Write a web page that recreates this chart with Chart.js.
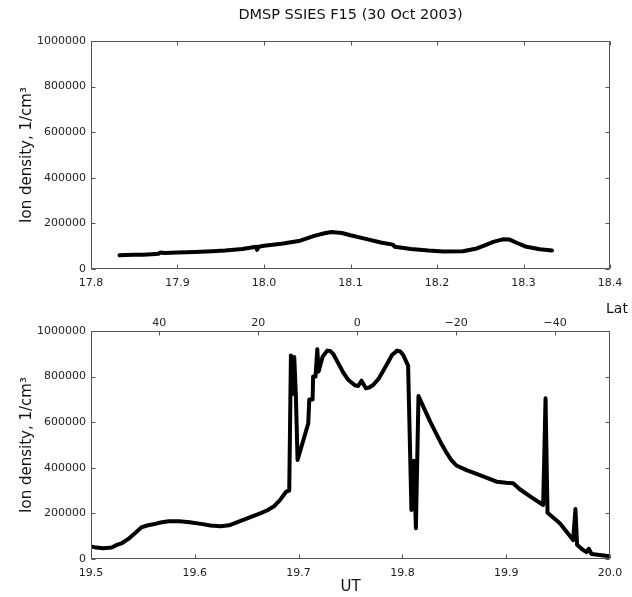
<!DOCTYPE html>
<html><head><meta charset="utf-8">
<script src="https://cdn.jsdelivr.net/npm/chart.js@4/dist/chart.umd.min.js"></script>
<style>
html,body{margin:0;padding:0;background:#fff;width:632px;height:597px;overflow:hidden}
canvas{position:absolute;left:0}
#c1{top:0}
#c2{top:300px}
</style></head><body>
<canvas id="c1" width="632" height="300"></canvas>
<canvas id="c2" width="632" height="297"></canvas>
<script>
// ---- data ----
const utTop = [17.833, 17.84, 17.85, 17.86, 17.87, 17.878, 17.88, 17.885, 17.9, 17.92, 17.94, 17.955, 17.975, 17.991, 17.992, 17.994, 18.0, 18.02, 18.042, 18.058, 18.07, 18.078, 18.09, 18.1, 18.12, 18.135, 18.149, 18.151, 18.17, 18.19, 18.207, 18.23, 18.246, 18.256, 18.265, 18.276, 18.284, 18.292, 18.302, 18.319, 18.333];
const densityTop = [60000, 61000, 62000, 63000, 65000, 67000, 72000, 70000, 72000, 75000, 78000, 81000, 88000, 98000, 84000, 98000, 102000, 111000, 124000, 145000, 157000, 162000, 158000, 148000, 130000, 116000, 107000, 98000, 88000, 81000, 77000, 78000, 90000, 105000, 119000, 130000, 129000, 115000, 99000, 87000, 81000];

const utBottom = [19.5, 19.505, 19.512, 19.52, 19.525, 19.53, 19.536, 19.542, 19.549, 19.555, 19.56, 19.567, 19.575, 19.585, 19.595, 19.606, 19.615, 19.625, 19.633, 19.643, 19.653, 19.663, 19.67, 19.676, 19.682, 19.688, 19.691, 19.6926, 19.6942, 19.6958, 19.6974, 19.699, 19.7093, 19.7103, 19.7135, 19.714, 19.7163, 19.718, 19.7193, 19.7231, 19.7276, 19.7305, 19.7334, 19.738, 19.743, 19.748, 19.7542, 19.7574, 19.7606, 19.7648, 19.768, 19.7718, 19.777, 19.7847, 19.79, 19.7949, 19.798, 19.8007, 19.8055, 19.8087, 19.811, 19.813, 19.8155, 19.819, 19.823, 19.827, 19.832, 19.837, 19.842, 19.847, 19.852, 19.857, 19.8618, 19.8746, 19.8907, 19.9, 19.9067, 19.9131, 19.9259, 19.9356, 19.9379, 19.9398, 19.9517, 19.9645, 19.9667, 19.9683, 19.9725, 19.9773, 19.9795, 19.9822, 19.99, 19.998, 20.0];
const densityBottom = [55000, 50000, 47000, 50000, 62000, 70000, 88000, 112000, 140000, 148000, 152000, 160000, 166000, 166000, 161000, 154000, 147000, 144000, 148000, 165000, 183000, 200000, 214000, 230000, 258000, 295000, 300000, 893000, 725000, 886000, 712000, 434000, 595000, 700000, 700000, 800000, 800000, 920000, 822000, 887000, 914000, 912000, 899000, 860000, 818000, 785000, 762000, 759000, 782000, 749000, 752000, 763000, 790000, 851000, 895000, 914000, 910000, 895000, 848000, 215000, 431000, 135000, 715000, 680000, 640000, 600000, 555000, 510000, 470000, 435000, 410000, 400000, 390000, 368000, 339000, 334000, 332000, 306000, 266000, 237000, 705000, 203000, 157000, 83000, 219000, 62000, 45000, 30000, 45000, 22000, 18000, 13000, 13000];

const yTicks = [0, 200000, 400000, 600000, 800000, 1000000];
const xTicksTop = [17.8, 17.9, 18.0, 18.1, 18.2, 18.3, 18.4];
const xTicksBottom = [19.5, 19.6, 19.7, 19.8, 19.9, 20.0];
const latTicks = [40, 20, 0, -20, -40];
const latTickLabels = ['40', '20', '0', '\u221220', '\u221240'];

// ---- styling ----
const FONT = 'DejaVu Sans';
const tickFont = {family: FONT, size: 11};
const tickColor = '#222';
const frameColor = '#555';

const framePlugin = {
  id: 'frame',
  afterDatasetsDraw(chart) {
    const {ctx, chartArea: a} = chart;
    ctx.save();
    ctx.strokeStyle = frameColor;
    ctx.lineWidth = 1;
    const L = Math.round(a.left) + 0.5, R = Math.round(a.right) - 0.5;
    const T = Math.round(a.top) + 0.5, B = Math.round(a.bottom) - 0.5;
    ctx.strokeRect(L, T, R - L, B - T);
    const len = 4;
    const line = (x1, y1, x2, y2) => { ctx.beginPath(); ctx.moveTo(x1, y1); ctx.lineTo(x2, y2); ctx.stroke(); };
    const ys = chart.scales.y;
    ys.ticks.forEach(t => {
      const py = Math.round(ys.getPixelForValue(t.value)) + 0.5;
      line(L, py, L + len, py); line(R - len, py, R, py);
    });
    const xs = chart.scales.x;
    xs.ticks.forEach(t => {
      const px = Math.round(xs.getPixelForValue(t.value)) + 0.5;
      line(px, B, px, B - len);
      if (!chart.scales.x2) line(px, T, px, T + len);
    });
    if (chart.scales.x2) {
      const x2 = chart.scales.x2;
      x2.ticks.forEach(t => {
        const px = Math.round(x2.getPixelForValue(t.value)) + 0.5;
        line(px, T, px, T + len);
      });
    }
    ctx.restore();
  }
};

const textPlugin = {
  id: 'texts',
  afterDraw(chart, args, opts) {
    const {ctx, chartArea: a} = chart;
    ctx.save();
    ctx.fillStyle = '#111';
    ctx.textBaseline = 'middle';
    ctx.textAlign = 'center';
    (opts.items || []).forEach(it => {
      ctx.font = it.size + 'px "' + FONT + '"';
      const x = it.x === 'center' ? (a.left + a.right) / 2 : it.x;
      ctx.fillText(it.text, x, it.y);
    });
    ctx.restore();
  }
};

function yScale(titlePad) {
  return {
    type: 'linear', min: 0, max: 1000000,
    afterBuildTicks: s => { s.ticks = yTicks.map(v => ({value: v})); },
    ticks: {font: tickFont, color: tickColor, padding: 5, autoSkip: false, callback: v => String(v)},
    grid: {display: false, drawTicks: false},
    border: {display: false},
    title: {display: true, text: 'Ion density, 1/cm\u00B3', color: '#111', font: {family: FONT, size: 15}, padding: {top: titlePad, bottom: 0}},
    afterFit: s => { s.width = 91; }
  };
}

// ---- top chart ----
new Chart(document.getElementById('c1'), {
  type: 'line',
  data: {datasets: [{
    data: utTop.map((x, i) => ({x: x, y: densityTop[i]})),
    borderColor: '#000', borderWidth: 4, pointRadius: 0, fill: false, tension: 0,
    borderJoinStyle: 'round', borderCapStyle: 'round'
  }]},
  options: {
    responsive: false, animation: false, devicePixelRatio: 1,
    layout: {padding: {top: 41, right: 22, left: 0, bottom: 0}},
    plugins: {
      legend: {display: false}, tooltip: {enabled: false},
      texts: {items: [{text: 'DMSP SSIES F15 (30 Oct 2003)', x: 'center', y: 15, size: 14.5}]}
    },
    scales: {
      x: {
        type: 'linear', min: 17.8, max: 18.4,
        afterBuildTicks: s => { s.ticks = xTicksTop.map(v => ({value: v})); },
        ticks: {font: tickFont, color: tickColor, padding: 8, maxRotation: 0, autoSkip: false, callback: v => Number(v).toFixed(1)},
        grid: {display: false, drawTicks: false},
        border: {display: false},
        afterFit: s => { s.height = 31; }
      },
      y: yScale(18)
    }
  },
  plugins: [framePlugin, textPlugin]
});

// ---- bottom chart ----
new Chart(document.getElementById('c2'), {
  type: 'line',
  data: {datasets: [{
    data: utBottom.map((x, i) => ({x: x, y: densityBottom[i]})),
    borderColor: '#000', borderWidth: 4, pointRadius: 0, fill: false, tension: 0,
    borderJoinStyle: 'round', borderCapStyle: 'round'
  }]},
  options: {
    responsive: false, animation: false, devicePixelRatio: 1,
    layout: {padding: {top: 0, right: 22, left: 0, bottom: 0}},
    plugins: {
      legend: {display: false}, tooltip: {enabled: false},
      texts: {items: [{text: 'Lat', x: 617, y: 9, size: 14}]}
    },
    scales: {
      x: {
        type: 'linear', position: 'bottom', min: 19.5, max: 20.0,
        afterBuildTicks: s => { s.ticks = xTicksBottom.map(v => ({value: v})); },
        ticks: {font: tickFont, color: tickColor, padding: 8, maxRotation: 0, autoSkip: false, callback: v => Number(v).toFixed(1)},
        grid: {display: false, drawTicks: false},
        border: {display: false},
        title: {display: true, text: 'UT', color: '#111', font: {family: FONT, size: 15}, padding: {top: 0, bottom: 1}},
        afterFit: s => { s.height = 38; }
      },
      x2: {
        type: 'linear', position: 'top', min: -51.1, max: 53.8, reverse: true,
        afterBuildTicks: s => { s.ticks = latTicks.map(v => ({value: v})); },
        ticks: {font: tickFont, color: tickColor, padding: 1, maxRotation: 0, autoSkip: false,
          callback: (v, i) => latTickLabels[i]},
        grid: {display: false, drawTicks: false},
        border: {display: false},
        afterFit: s => { s.height = 31; }
      },
      y: yScale(18)
    }
  },
  plugins: [framePlugin, textPlugin]
});
</script>
</body></html>
